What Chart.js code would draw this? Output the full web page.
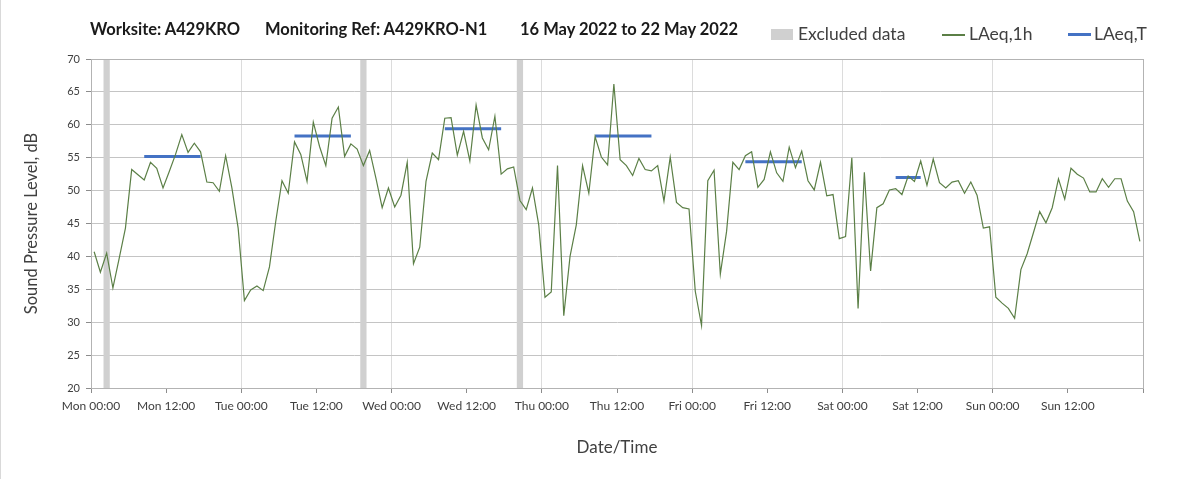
<!DOCTYPE html>
<html>
<head>
<meta charset="utf-8">
<script src="https://cdn.jsdelivr.net/npm/chart.js@4.4.1/dist/chart.umd.min.js"></script>
<style>
html, body { margin: 0; padding: 0; background: #fff; }
#wrap { position: relative; width: 1203px; height: 479px; overflow: hidden; font-family: Lato, "Open Sans", sans-serif; color: #404040; }
#edge { position: absolute; left: 0; top: 0; width: 1px; height: 479px; background: #d9d9d9; }
.ttl { position: absolute; top: 20px; font-weight: bold; font-size: 16.5px; line-height: 18px; color: #1a1a1a; white-space: pre; }
.leg { position: absolute; top: 25px; font-size: 17.5px; line-height: 18px; white-space: pre; }
.sw { position: absolute; }
</style>
</head>
<body>
<div id="wrap">
  <canvas id="chart" width="1203" height="479"></canvas>
  <div id="edge"></div>
  <div class="ttl" style="left:90px">Worksite: A429KRO</div>
  <div class="ttl" style="left:265px">Monitoring Ref: A429KRO-N1</div>
  <div class="ttl" style="left:520px">16 May 2022 to 22 May 2022</div>
  <div class="sw" style="left:771px;top:29px;width:22px;height:11px;background:#d0d0d0"></div>
  <div class="leg" style="left:798px">Excluded data</div>
  <div class="sw" style="left:942px;top:34px;width:23px;height:1.5px;background:#5b7f46"></div>
  <div class="leg" style="left:969px">LAeq,1h</div>
  <div class="sw" style="left:1068px;top:33px;width:23px;height:3px;background:#4472c4"></div>
  <div class="leg" style="left:1094px">LAeq,T</div>
</div>
<script>
//Data: hourly LAeq,1h readings from Mon 00:00 (index 0) to Sun 23:00 (index 167)
var laeq1h = [
  40.7, 37.6, 40.5, 35.2, 39.7, 44.3, 53.2, 52.4, 51.6, 54.3, 53.4, 50.4,
  52.9, 55.5, 58.5, 55.8, 57.2, 55.9, 51.3, 51.2, 49.9, 55.3, 50.4, 44.3,
  33.3, 34.9, 35.5, 34.8, 38.4, 45.3, 51.5, 49.6, 57.4, 55.5, 51.4, 60.4,
  56.7, 53.8, 61.0, 62.7, 55.2, 57.1, 56.3, 53.8, 56.1, 51.9, 47.4, 50.4,
  47.5, 49.3, 54.3, 38.9, 41.4, 51.4, 55.7, 54.7, 61.0, 61.1, 55.4, 59.0,
  54.5, 63.0, 58.0, 56.2, 61.3, 52.5, 53.3, 53.6, 48.5, 47.1, 50.4, 44.8,
  33.8, 34.6, 53.8, 31.0, 40.0, 44.8, 53.8, 49.6, 58.2, 55.1, 53.9, 66.2,
  54.7, 53.8, 52.3, 54.9, 53.2, 53.0, 53.8, 48.4, 55.1, 48.2, 47.4, 47.2,
  34.7, 29.5, 51.5, 53.1, 37.3, 43.8, 54.3, 53.2, 55.3, 55.9, 50.5, 51.7,
  55.9, 52.7, 51.4, 56.6, 53.5, 56.0, 51.5, 50.1, 54.3, 49.2, 49.4, 42.7,
  43.0, 55.0, 32.1, 52.8, 37.8, 47.4, 48.0, 50.1, 50.3, 49.4, 52.2, 51.4,
  54.5, 50.8, 54.8, 51.2, 50.4, 51.3, 51.5, 49.6, 51.3, 49.3, 44.3, 44.5,
  33.8, 32.9, 32.1, 30.6, 38.0, 40.4, 43.6, 46.8, 45.1, 47.4, 51.8, 48.7,
  53.4, 52.5, 51.9, 49.8, 49.8, 51.8, 50.5, 51.8, 51.8, 48.4, 46.8, 42.3
];

//LAeq,T periods (hour index from / to) and level
var laeqTFrom  = [8, 32, 56, 80, 104, 128];
var laeqTTo    = [17, 41, 65, 89, 113, 132];
var laeqTLevel = [55.2, 58.3, 59.4, 58.3, 54.4, 52.0];

//Excluded data periods (hours from Mon 00:00)
var excludedFrom = [2, 43, 68];
var excludedTo   = [3, 44, 69];

//X tick labels, one per 12 hours
var xTickLabels = ["Mon 00:00", "Mon 12:00", "Tue 00:00", "Tue 12:00", "Wed 00:00", "Wed 12:00",
                   "Thu 00:00", "Thu 12:00", "Fri 00:00", "Fri 12:00", "Sat 00:00", "Sat 12:00",
                   "Sun 00:00", "Sun 12:00", ""];

var yTicks = [20, 25, 30, 35, 40, 45, 50, 55, 60, 65, 70];

//build points (reading plotted at the middle of its hour)
var hourPoints = laeq1h.map(function(v, i){ return {x: i + 0.5, y: v}; });
var tPoints = [];
for (var k = 0; k < laeqTLevel.length; k++) {
  tPoints.push({x: laeqTFrom[k] + 0.5, y: laeqTLevel[k]});
  tPoints.push({x: laeqTTo[k] + 0.5, y: laeqTLevel[k]});
  tPoints.push({x: laeqTTo[k] + 0.5, y: null});
}

//grey bands + outer box
var bandsPlugin = {
  id: 'bands',
  beforeDatasetsDraw: function(chart){
    var ctx = chart.ctx, x = chart.scales.x, a = chart.chartArea;
    ctx.save();
    ctx.fillStyle = '#d0d0d0';
    for (var i = 0; i < excludedFrom.length; i++) {
      var x1 = x.getPixelForValue(excludedFrom[i]);
      var x2 = x.getPixelForValue(excludedTo[i]);
      ctx.fillRect(x1, a.top, x2 - x1, a.bottom - a.top);
    }
    ctx.strokeStyle = '#b3b3b3';
    ctx.lineWidth = 1;
    ctx.strokeRect(Math.round(a.left) + 0.5, Math.round(a.top) + 0.5, Math.round(a.right - a.left), Math.round(a.bottom - a.top));
    ctx.restore();
  }
};

var fontFam = 'Lato, "Open Sans", sans-serif';

var chart = new Chart(document.getElementById('chart'), {
  type: 'line',
  data: {
    datasets: [
      {
        label: 'LAeq,1h',
        data: hourPoints,
        borderColor: '#5b7f46',
        borderWidth: 1.2,
        pointRadius: 0,
        tension: 0
      },
      {
        label: 'LAeq,T',
        data: tPoints,
        borderColor: '#4472c4',
        borderWidth: 3,
        pointRadius: 0,
        spanGaps: false
      }
    ]
  },
  options: {
    responsive: false,
    animation: false,
    events: [],
    layout: { padding: { top: 59, right: 60, bottom: 0, left: 0 } },
    plugins: { legend: { display: false }, title: { display: false }, tooltip: { enabled: false } },
    scales: {
      x: {
        type: 'linear',
        min: 0,
        max: 168,
        offset: false,
        afterFit: function(s){ s.height = 91; },
        afterBuildTicks: function(s){
          s.ticks = xTickLabels.map(function(l, i){ return {value: i * 12}; });
        },
        grid: {
          color: function(c){ return (c.tick && c.tick.value % 24 === 0) ? '#dcdcdc' : 'rgba(0,0,0,0)'; },
          tickColor: '#8c8c8c',
          tickLength: 5,
          drawTicks: true
        },
        border: { color: '#a6a6a6' },
        ticks: {
          autoSkip: false,
          maxRotation: 0,
          padding: 6,
          color: '#404040',
          font: { family: fontFam, size: 12 },
          callback: function(v){ return xTickLabels[Math.round(v / 12)]; }
        },
        title: {
          display: true,
          text: 'Date/Time',
          color: '#404040',
          font: { family: fontFam, size: 17 },
          padding: { top: 0, bottom: 21 }
        }
      },
      y: {
        min: 20,
        max: 70,
        afterFit: function(s){ s.width = 91; },
        afterBuildTicks: function(s){
          s.ticks = yTicks.map(function(v){ return {value: v}; });
        },
        grid: {
          color: '#c4c4c4',
          tickColor: '#8c8c8c',
          tickLength: 5
        },
        border: { color: '#a6a6a6' },
        ticks: {
          padding: 6,
          color: '#404040',
          font: { family: fontFam, size: 11 }
        },
        title: {
          display: true,
          text: 'Sound Pressure Level, dB',
          color: '#404040',
          font: { family: fontFam, size: 16.5 },
          padding: { top: 22, bottom: 0 }
        }
      }
    }
  },
  plugins: [bandsPlugin]
});
</script>
</body>
</html>
